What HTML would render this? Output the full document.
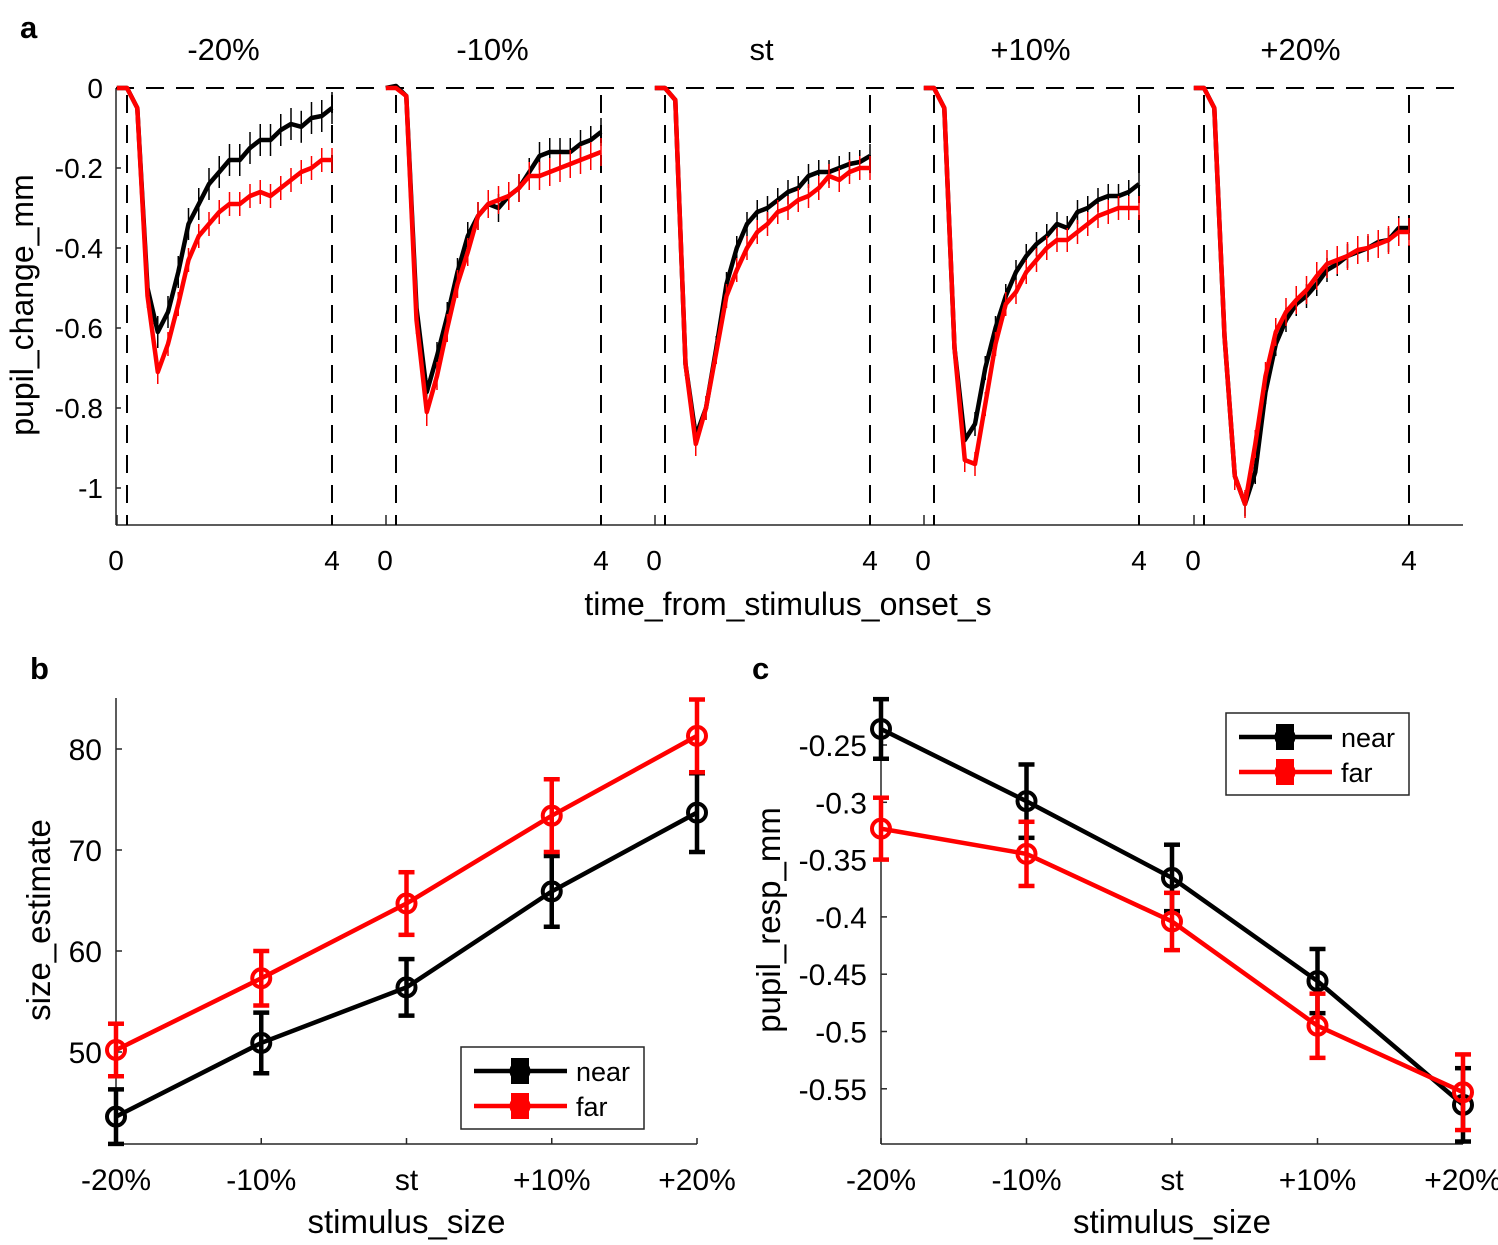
<!DOCTYPE html>
<html><head><meta charset="utf-8"><style>
body{margin:0;background:#fff;}
svg{display:block;font-family:"Liberation Sans",Arial,sans-serif;}
</style></head><body>
<svg id="fig" width="1498" height="1245" viewBox="0 0 1498 1245">
<rect width="1498" height="1245" fill="#fff"/>
<text x="20" y="38" font-size="31" font-weight="bold">a</text>
<text x="30" y="679" font-size="31" font-weight="bold">b</text>
<text x="752" y="679" font-size="31" font-weight="bold">c</text>
<g id="pa"></g>
<g id="pb"></g>
<g id="pc"></g>
</svg>
<script>
// ---------- Panel a data ----------
const conditions = ["-20%","-10%","st","+10%","+20%"];
const times = [-0.2,0,0.2,0.4,0.6,0.8,1.0,1.2,1.4,1.6,1.8,2.0,2.2,2.4,2.6,2.8,3.0,3.2,3.4,3.6,3.8,4.0];
const nearM20 = [0,0,-0.05,-0.5,-0.61,-0.56,-0.46,-0.34,-0.29,-0.24,-0.21,-0.18,-0.18,-0.15,-0.13,-0.13,-0.105,-0.09,-0.097,-0.075,-0.07,-0.05];
const farM20  = [0,0,-0.05,-0.52,-0.71,-0.64,-0.54,-0.43,-0.37,-0.34,-0.31,-0.29,-0.29,-0.27,-0.26,-0.27,-0.25,-0.23,-0.21,-0.2,-0.18,-0.18];
const nearM10 = [0,0.005,-0.02,-0.55,-0.76,-0.67,-0.57,-0.46,-0.37,-0.32,-0.29,-0.30,-0.27,-0.25,-0.21,-0.17,-0.16,-0.16,-0.16,-0.14,-0.13,-0.11];
const farM10  = [0,0,-0.02,-0.58,-0.81,-0.72,-0.6,-0.49,-0.41,-0.32,-0.29,-0.28,-0.27,-0.25,-0.22,-0.22,-0.21,-0.2,-0.19,-0.18,-0.17,-0.16];
const nearSt  = [0,0,-0.03,-0.69,-0.87,-0.8,-0.65,-0.49,-0.40,-0.34,-0.31,-0.30,-0.28,-0.26,-0.25,-0.22,-0.21,-0.21,-0.20,-0.19,-0.185,-0.17];
const farSt   = [0,0,-0.03,-0.69,-0.89,-0.8,-0.66,-0.52,-0.455,-0.40,-0.36,-0.34,-0.31,-0.30,-0.28,-0.27,-0.25,-0.22,-0.23,-0.21,-0.20,-0.20];
const nearP10 = [0,0,-0.05,-0.65,-0.88,-0.84,-0.7,-0.6,-0.52,-0.46,-0.42,-0.39,-0.37,-0.34,-0.35,-0.31,-0.3,-0.28,-0.27,-0.27,-0.26,-0.24];
const farP10  = [0,0,-0.05,-0.65,-0.93,-0.94,-0.79,-0.64,-0.54,-0.51,-0.46,-0.43,-0.4,-0.38,-0.38,-0.36,-0.34,-0.32,-0.31,-0.3,-0.3,-0.3];
const nearP20 = [0,0,-0.05,-0.62,-0.97,-1.04,-0.96,-0.76,-0.64,-0.58,-0.54,-0.52,-0.49,-0.455,-0.44,-0.42,-0.41,-0.40,-0.385,-0.38,-0.35,-0.35];
const farP20  = [0,0,-0.05,-0.62,-0.97,-1.04,-0.89,-0.72,-0.61,-0.56,-0.53,-0.505,-0.47,-0.44,-0.43,-0.42,-0.405,-0.40,-0.39,-0.38,-0.36,-0.36];
const nearSeriesA = [nearM20,nearM10,nearSt,nearP10,nearP20];
const farSeriesA = [farM20,farM10,farSt,farP10,farP20];
const nearErrA = [0.04,0.035,0.03,0.03,0.03];
const farErrA = [0.03,0.035,0.03,0.03,0.035];
const yTicksA = [0,-0.2,-0.4,-0.6,-0.8,-1];
const yTickLabelsA = ["0","-0.2","-0.4","-0.6","-0.8","-1"];

// ---------- Panel b data ----------
const sizeCats = ["-20%","-10%","st","+10%","+20%"];
const nearEst = [43.6,50.9,56.4,65.9,73.7];
const nearEstErr = [2.7,3.0,2.8,3.5,3.9];
const farEst = [50.2,57.3,64.7,73.4,81.3];
const farEstErr = [2.6,2.7,3.1,3.6,3.6];
const yTicksB = [50,60,70,80];

// ---------- Panel c data ----------
const nearResp = [-0.236,-0.299,-0.366,-0.456,-0.564];
const nearRespErr = [0.026,0.032,0.029,0.028,0.032];
const farResp = [-0.323,-0.345,-0.404,-0.495,-0.553];
const farRespErr = [0.027,0.028,0.025,0.028,0.033];
const yTicksC = [-0.25,-0.3,-0.35,-0.4,-0.45,-0.5,-0.55];
const yTickLabelsC = ["-0.25","-0.3","-0.35","-0.4","-0.45","-0.5","-0.55"];

const NS="http://www.w3.org/2000/svg";
function mk(parent,tag,attrs,text){const e=document.createElementNS(NS,tag);for(const k in attrs)e.setAttribute(k,attrs[k]);if(text!==undefined)e.textContent=text;parent.appendChild(e);return e;}

// ===== Panel a =====
const pa=document.getElementById('pa');
const onsets=[127,396,665,934,1204];
const pxPerS=51.25;
const yA=v=>88-v*400;
const xA=(i,t)=>onsets[i]+t*pxPerS;
let e;
e=mk(pa,'line',{x1:116,y1:88,x2:116,y2:525,stroke:'#262626','stroke-width':1.5});


e=mk(pa,'line',{x1:116,y1:525,x2:1463,y2:525,stroke:'#262626','stroke-width':1.5});


yTicksA.forEach((v,k)=>{
  mk(pa,'line',{x1:116,y1:yA(v),x2:121,y2:yA(v),stroke:'#262626','stroke-width':1.5});
  e=mk(pa,'text',{x:103,y:yA(v)+10,'font-size':28,'text-anchor':'end'},yTickLabelsA[k]);
  
  
});
e=mk(pa,'line',{x1:116,y1:88,x2:1463,y2:88,stroke:'#000','stroke-width':2,'stroke-dasharray':'18,12'});


e=mk(pa,'text',{x:0,y:0,'font-size':32,'text-anchor':'middle',transform:'translate(33,305) rotate(-90)'},'pupil_change_mm');


e=mk(pa,'text',{x:788,y:615,'font-size':32,'text-anchor':'middle'},'time_from_stimulus_onset_s');


conditions.forEach((c,i)=>{
  const x0=xA(i,0), x4=xA(i,4);
  [x0,x4].forEach(x=>{mk(pa,'line',{x1:x,y1:95,x2:x,y2:525,stroke:'#000','stroke-width':2,'stroke-dasharray':'18,12'});});
  mk(pa,'line',{x1:x0-10,y1:515,x2:x0-10,y2:525,stroke:'#262626','stroke-width':1.5});
  e=mk(pa,'text',{x:x0-11,y:570,'font-size':28,'text-anchor':'middle'},'0');
  
  
  e=mk(pa,'text',{x:x4,y:570,'font-size':28,'text-anchor':'middle'},'4');
  
  
  e=mk(pa,'text',{x:(x0+x4)/2-6,y:60,'font-size':31,'text-anchor':'middle'},c);
  
  
  [[nearSeriesA[i],nearErrA[i],'#000','near'],[farSeriesA[i],farErrA[i],'#ff0000','far']].forEach(([ser,err,col,nm])=>{
    const g=mk(pa,'g',{});
    
    
    ser.forEach((v,k)=>{ if(times[k]>0.2){
      mk(g,'line',{x1:xA(i,times[k]),y1:yA(v-err),x2:xA(i,times[k]),y2:yA(v+err),stroke:col,'stroke-width':1.5});
    }});
    const d=ser.map((v,k)=>(k?'L':'M')+xA(i,times[k]).toFixed(1)+','+yA(v).toFixed(1)).join(' ');
    mk(g,'path',{d:d,fill:'none',stroke:col,'stroke-width':4.5,'stroke-linejoin':'round'});
  });
});

// ===== generic errorbar panel =====
function errPanel(root,opt){
  const {x0,x1,yTop,yBot,yFn,ticks,tickLabels,near,nearErr,far,farErr,legX,legY,ylab,ylabX,tickLabelX}=opt;
  const xF=k=>x0+k*(x1-x0)/4;
  e=mk(root,'line',{x1:x0,y1:yTop,x2:x0,y2:yBot,stroke:'#262626','stroke-width':1.5});
  
  
  e=mk(root,'line',{x1:x0,y1:yBot,x2:x1,y2:yBot,stroke:'#262626','stroke-width':1.5});
  
  
  ticks.forEach((v,k)=>{
    mk(root,'line',{x1:x0,y1:yFn(v),x2:x0+6,y2:yFn(v),stroke:'#262626','stroke-width':1.5});
    e=mk(root,'text',{x:tickLabelX,y:yFn(v)+11,'font-size':30,'text-anchor':'end'},tickLabels[k]);
    
    
  });
  sizeCats.forEach((c,k)=>{
    mk(root,'line',{x1:xF(k),y1:yBot,x2:xF(k),y2:yBot-6,stroke:'#262626','stroke-width':1.5});
    e=mk(root,'text',{x:xF(k),y:yBot+46,'font-size':30,'text-anchor':'middle'},c);
    
    
  });
  e=mk(root,'text',{x:(x0+x1)/2,y:yBot+89,'font-size':33,'text-anchor':'middle'},'stimulus_size');
  
  
  e=mk(root,'text',{x:0,y:0,'font-size':33,'text-anchor':'middle',transform:'translate('+ylabX+',920) rotate(-90)'},ylab);
  
  
  [[near,nearErr,'#000','near'],[far,farErr,'#ff0000','far']].forEach(([ser,err,col,nm])=>{
    const g=mk(root,'g',{});
    
    
    const d=ser.map((v,k)=>(k?'L':'M')+xF(k)+','+yFn(v).toFixed(1)).join(' ');
    mk(g,'path',{d:d,fill:'none',stroke:col,'stroke-width':4.5});
    ser.forEach((v,k)=>{
      const x=xF(k),a=yFn(v+err[k]),b=yFn(v-err[k]);
      mk(g,'line',{x1:x,y1:a,x2:x,y2:b,stroke:col,'stroke-width':4.5});
      mk(g,'line',{x1:x-8,y1:a,x2:x+8,y2:a,stroke:col,'stroke-width':4.5});
      mk(g,'line',{x1:x-8,y1:b,x2:x+8,y2:b,stroke:col,'stroke-width':4.5});
      mk(g,'circle',{cx:x,cy:yFn(v),r:9,fill:'none',stroke:col,'stroke-width':4});
    });
  });
  const lg=mk(root,'g',{});
  
  
  mk(lg,'rect',{x:legX,y:legY,width:183,height:82,fill:'#fff',stroke:'#262626','stroke-width':1.5});
  [['near','#000',24],['far','#ff0000',59]].forEach(([nm,col,dy])=>{
    const y=legY+dy;
    mk(lg,'line',{x1:legX+13,y1:y,x2:legX+106,y2:y,stroke:col,'stroke-width':4.5});
    mk(lg,'rect',{x:legX+50,y:y-13,width:18,height:26,fill:col});
    mk(lg,'circle',{cx:legX+59,cy:y,r:9,fill:col,stroke:col,'stroke-width':3});
    e=mk(lg,'text',{x:legX+115,y:y+10,'font-size':27},nm);
    
    
  });
}
errPanel(document.getElementById('pb'),{x0:116,x1:697,yTop:698,yBot:1144,yFn:v=>1052-(v-50)*10.1,
  ticks:yTicksB,tickLabels:yTicksB.map(String),near:nearEst,nearErr:nearEstErr,far:farEst,farErr:farEstErr,
  legX:461,legY:1047,ylab:'size_estimate',ylabX:50,tickLabelX:102});
errPanel(document.getElementById('pc'),{x0:881,x1:1463,yTop:698,yBot:1144,yFn:v=>745-(v+0.25)*1146,
  ticks:yTicksC,tickLabels:yTickLabelsC,near:nearResp,nearErr:nearRespErr,far:farResp,farErr:farRespErr,
  legX:1226,legY:713,ylab:'pupil_resp_mm',ylabX:780,tickLabelX:867});
</script>
</body></html>
